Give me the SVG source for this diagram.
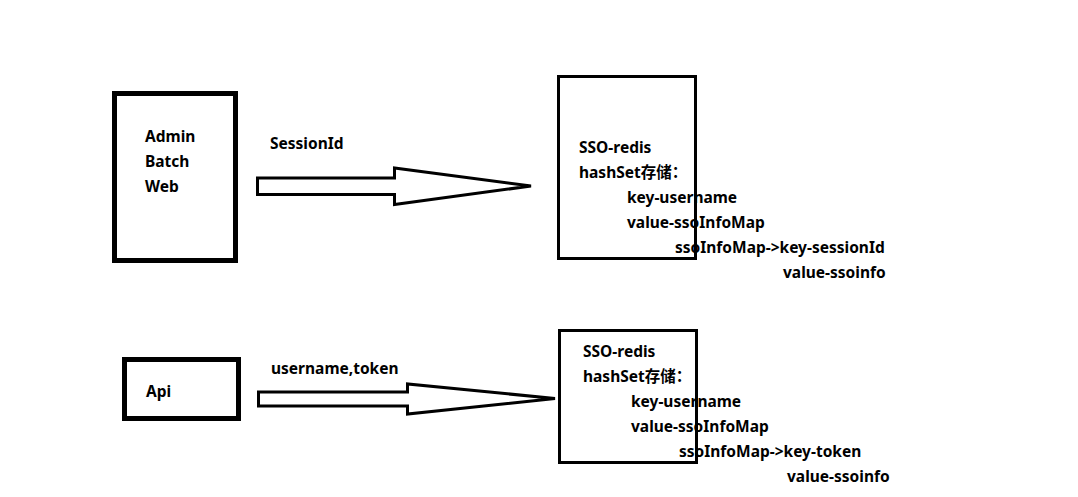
<svg xmlns="http://www.w3.org/2000/svg" width="1078" height="497" viewBox="0 0 1078 497">
<style>
.t{font-family:"Noto Sans","Noto Sans CJK SC",sans-serif;font-weight:bold;font-size:15.5px;fill:#000}
.box{fill:#fff;stroke:#000}
.arr{fill:#fff;stroke:#000;stroke-width:3;stroke-linejoin:miter}
</style>
<rect width="1078" height="497" fill="#fff"/>
<g id="clients">
<rect class="box" x="114.5" y="93.5" width="121" height="167" stroke-width="5"/>
<text class="t" x="145" y="142">Admin</text>
<text class="t" x="145" y="167">Batch</text>
<text class="t" x="145" y="192">Web</text>
</g>
<g id="redis1">
<rect class="box" x="558.5" y="76.5" width="137" height="182" stroke-width="3"/>
<text class="t" x="579" y="153">SSO-redis</text>
<text class="t" x="579" y="178">hashSet存储：</text>
<text class="t" x="627" y="203">key-username</text>
<text class="t" x="627" y="228">value-ssoInfoMap</text>
<text class="t" x="675" y="253">ssoInfoMap-&gt;key-sessionId</text>
<text class="t" x="783" y="278">value-ssoinfo</text>
</g>
<g id="api">
<rect class="box" x="124.5" y="359.5" width="114" height="59" stroke-width="5"/>
<text class="t" x="146" y="397">Api</text>
</g>
<g id="redis2">
<rect class="box" x="559.5" y="330.5" width="137" height="132" stroke-width="3"/>
<text class="t" x="583" y="357">SSO-redis</text>
<text class="t" x="583" y="382">hashSet存储：</text>
<text class="t" x="631" y="407">key-username</text>
<text class="t" x="631" y="432">value-ssoInfoMap</text>
<text class="t" x="679" y="457">ssoInfoMap-&gt;key-token</text>
<text class="t" x="787" y="482">value-ssoinfo</text>
</g>
<g id="connectors">
<polygon class="arr" points="257.5,178 394.5,178 394.5,168 531,186 394.5,204.5 394.5,194.5 257.5,194.5"/>
<text class="t" x="270" y="149">SessionId</text>
<polygon class="arr" points="258.5,392 407.5,392 407.5,384 555,398.5 407.5,414 407.5,406 258.5,406"/>
<text class="t" x="271" y="374">username,token</text>
</g>
</svg>
